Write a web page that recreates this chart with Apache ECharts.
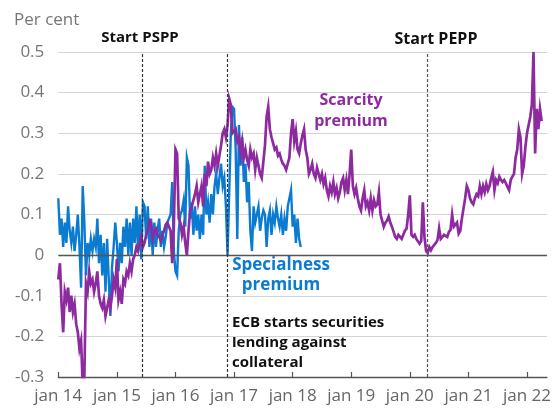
<!DOCTYPE html>
<html>
<head>
<meta charset="utf-8">
<script src="https://cdn.jsdelivr.net/npm/echarts@6/dist/echarts.min.js"></script>
<style>
html,body{margin:0;padding:0;background:#fff;}
#chart{width:554px;height:408px;}
</style>
</head>
<body>
<div id="chart"></div>
<script>
// ---- data ----
var startYear = 2014;
var stepYears = 1 / 36; // roughly 10-day samples

var scarcityPremium = [
-0.06,-0.02,-0.12,-0.19,-0.09,-0.11,-0.08,-0.14,-0.1,-0.14,
-0.12,-0.17,-0.19,-0.23,-0.21,-0.32,-0.3,-0.07,-0.09,-0.04,
-0.07,-0.06,-0.09,-0.07,-0.04,-0.1,-0.12,-0.13,-0.11,-0.15,
-0.13,-0.11,-0.13,-0.1,-0.06,-0.08,-0.01,-0.11,-0.09,-0.12,
-0.06,-0.07,-0.04,-0.05,-0.02,-0.04,-0.01,0.0,0.02,0.01,
0.03,0.045,0.02,0.03,0.05,0.06,0.085,0.08,0.04,0.06,
0.065,0.05,0.045,0.035,0.05,0.06,0.075,0.08,0.07,0.06,
-0.02,0.07,0.26,0.25,0.09,0.08,0.05,0.07,0.03,0.0,
0.06,0.11,0.12,0.135,0.15,0.17,0.13,0.13,0.17,0.12,
0.2,0.17,0.23,0.2,0.21,0.24,0.22,0.25,0.22,0.245,
0.27,0.3,0.31,0.29,0.32,0.385,0.37,0.3,0.3,0.31,
0.28,0.29,0.25,0.28,0.24,0.26,0.235,0.22,0.26,0.24,
0.25,0.21,0.24,0.22,0.2,0.19,0.23,0.27,0.34,0.365,
0.31,0.29,0.275,0.26,0.265,0.245,0.25,0.235,0.225,0.22,
0.21,0.225,0.24,0.3,0.335,0.28,0.305,0.26,0.25,0.275,
0.295,0.31,0.26,0.24,0.2,0.21,0.225,0.2,0.19,0.215,
0.2,0.185,0.2,0.175,0.19,0.16,0.145,0.17,0.155,0.18,
0.15,0.165,0.14,0.155,0.18,0.19,0.16,0.185,0.15,0.2,
0.26,0.17,0.15,0.165,0.14,0.12,0.11,0.14,0.16,0.12,
0.13,0.11,0.14,0.11,0.135,0.12,0.125,0.155,0.1,0.085,
0.07,0.08,0.085,0.095,0.08,0.07,0.058,0.045,0.04,0.05,
0.045,0.04,0.05,0.06,0.065,0.1,0.147,0.05,0.045,0.05,
0.04,0.037,0.028,0.035,0.13,0.045,0.01,0.005,0.02,0.012,
0.02,0.02,0.03,0.037,0.066,0.04,0.045,0.05,0.053,0.045,
0.057,0.062,0.1,0.07,0.073,0.08,0.053,0.06,0.09,0.115,
0.14,0.17,0.16,0.14,0.13,0.125,0.14,0.15,0.145,0.17,
0.15,0.17,0.155,0.175,0.16,0.17,0.19,0.205,0.16,0.185,
0.177,0.193,0.185,0.18,0.185,0.177,0.168,0.16,0.185,0.193,
0.2,0.24,0.26,0.31,0.29,0.2,0.22,0.265,0.3,0.32,
0.34,0.37,0.5,0.25,0.36,0.31,0.36,0.33
];

var specialnessPremium = [
0.14,0.05,0.09,0.02,0.08,0.03,0.12,0.06,0.03,0.07,
0.01,0.05,0.1,0.02,-0.08,0.17,0.08,-0.05,0.03,0.0,
0.04,0.01,0.04,0.02,0.09,-0.02,0.05,-0.05,0.03,-0.09,
0.04,-0.06,-0.15,-0.03,0.02,0.08,0.03,-0.04,0.03,-0.02,
0.07,0.02,0.09,0.0,0.08,0.0,0.09,0.03,0.12,0.01,
0.1,-0.01,0.13,0.12,0.04,0.12,0.02,0.09,0.0,0.08,
0.02,0.06,0.09,0.02,0.06,0.02,0.045,0.08,0.09,0.1,
0.18,0.01,-0.04,-0.05,0.06,0.1,0.11,0.135,0.07,0.24,
0.22,0.09,0.13,0.05,0.12,0.06,0.1,0.04,0.1,0.05,
0.22,0.1,0.13,0.08,0.15,0.1,0.17,0.2,0.15,0.19,
0.225,0.17,0.19,0.12,0.0,0.15,0.3,0.365,0.36,0.26,
0.04,0.32,0.22,0.29,0.18,0.225,0.13,0.18,0.06,0.01,
0.12,0.08,0.1,0.12,0.06,0.09,0.11,0.1,0.02,0.09,
0.11,0.05,0.1,0.08,0.12,0.09,0.07,0.1,0.05,0.09,
0.06,0.12,0.12,0.16,0.07,0.1,0.03,0.09,0.04,0.02
];

var eventDates = [2015.426, 2016.886, 2020.293]; // Start PSPP, ECB securities lending, Start PEPP
var xTickLabels = ['jan 14','jan 15','jan 16','jan 17','jan 18','jan 19','jan 20','jan 21','jan 22'];
var yTicks = { min: -0.3, max: 0.5, step: 0.1 };

// ---- build ----
function toPairs(arr) {
  return arr.map(function (v, i) { return [startYear + i * stepYears, v]; });
}

var PURPLE = '#8E2A9F';
var BLUE = '#0A7BD1';
var FONT = 'Open Sans';

var chart = echarts.init(document.getElementById('chart'), null, { renderer: 'canvas' });

chart.setOption({
  animation: false,
  backgroundColor: '#ffffff',
  grid: { left: 58.3, right: 6.2, top: 52, bottom: 31, containLabel: false },
  xAxis: {
    type: 'value',
    min: startYear,
    max: 2022.34,
    interval: 1,
    axisLine: { show: true, onZero: false, lineStyle: { color: '#555', width: 1.3 } },
    axisTick: { show: true, inside: true, length: 5, lineStyle: { color: '#555', width: 1.2 } },
    splitLine: { show: false },
    axisLabel: {
      color: '#666', fontFamily: FONT, fontSize: 17, margin: 11,
      showMaxLabel: false,
      formatter: function (v) {
        var k = Math.round(v - startYear);
        return xTickLabels[k] || '';
      }
    }
  },
  yAxis: {
    type: 'value',
    min: yTicks.min,
    max: yTicks.max,
    interval: yTicks.step,
    axisLine: { show: false },
    axisTick: { show: false },
    splitLine: { show: true, lineStyle: { color: '#d4d4d4', width: 1.2 } },
    axisLabel: {
      color: '#777', fontFamily: FONT, fontSize: 17, margin: 14,
      formatter: function (v) { return String(Math.round(v * 10) / 10); }
    }
  },
  series: [
    {
      type: 'line', data: [], z: 1, silent: true,
      markLine: {
        silent: true, symbol: ['none', 'none'], label: { show: false },
        data: [
          { yAxis: 0, lineStyle: { color: '#555', width: 1.4, type: 'solid' } },
          { xAxis: eventDates[0], lineStyle: { color: '#333', width: 1.2, type: [3, 2] } },
          { xAxis: eventDates[1], lineStyle: { color: '#333', width: 1.2, type: [3, 2] } },
          { xAxis: eventDates[2], lineStyle: { color: '#555', width: 1.2, type: [3, 2] } }
        ]
      }
    },
    {
      name: 'Specialness premium', type: 'line', z: 3,
      data: toPairs(specialnessPremium),
      showSymbol: false, symbol: 'none',
      lineStyle: { color: BLUE, width: 2.4, join: 'miter' }
    },
    {
      name: 'Scarcity premium', type: 'line', z: 4,
      data: toPairs(scarcityPremium),
      showSymbol: false, symbol: 'none',
      lineStyle: { color: PURPLE, width: 2.7, join: 'miter' }
    }
  ],
  graphic: [
    { type: 'text', left: 14, top: 12, style: { text: 'Per cent', fill: '#777', font: '17px "' + FONT + '"' } },
    { type: 'text', x: 140, y: 38, style: { text: 'Start PSPP', fill: '#111', font: 'bold 15px "' + FONT + '"', align: 'center', verticalAlign: 'middle' } },
    { type: 'text', x: 436, y: 39, style: { text: 'Start PEPP', fill: '#111', font: 'bold 16px "' + FONT + '"', align: 'center', verticalAlign: 'middle' } },
    { type: 'text', x: 351, y: 111, style: { text: 'Scarcity\npremium', fill: PURPLE, font: 'bold 16px "' + FONT + '"', align: 'center', verticalAlign: 'middle', lineHeight: 21 } },
    { type: 'text', x: 281, y: 275, style: { text: 'Specialness\npremium', fill: BLUE, font: 'bold 17px "' + FONT + '"', align: 'center', verticalAlign: 'middle', lineHeight: 20 } },
    { type: 'text', x: 232, y: 343, style: { text: 'ECB starts securities\nlending against\ncollateral', fill: '#111', font: 'bold 15px "' + FONT + '"', align: 'left', verticalAlign: 'middle', lineHeight: 20 } }
  ]
});
</script>
</body>
</html>
